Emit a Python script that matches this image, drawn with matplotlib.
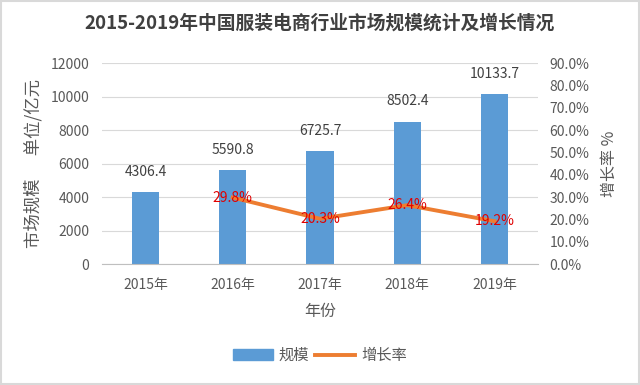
import matplotlib
matplotlib.use("Agg")
import matplotlib.pyplot as plt
from matplotlib.ticker import FuncFormatter, MultipleLocator

plt.rcParams["font.family"] = ["Noto Sans CJK SC", "DejaVu Sans"]

years = ["2015年", "2016年", "2017年", "2018年", "2019年"]
scale = [4306.4, 5590.8, 6725.7, 8502.4, 10133.7]
growth_years = ["2016年", "2017年", "2018年", "2019年"]
growth = [29.8, 20.3, 26.4, 19.2]

BLUE = "#5B9BD5"
ORANGE = "#ED7D31"
GREY = "#595959"

fig = plt.figure(figsize=(6.4, 3.85), dpi=100)
ax = fig.add_axes([0.159, 0.314, 0.682, 0.522])

x = list(range(len(years)))
ax.bar(x, scale, width=0.31, color=BLUE, zorder=2)
for xi, v in zip(x, scale):
    ax.text(xi, v + 800, f"{v:.1f}", ha="center", va="bottom",
            fontsize=10, color="#404040")

ax.set_xlim(-0.5, len(years) - 0.5)
ax.set_ylim(0, 12000)
ax.yaxis.set_major_locator(MultipleLocator(2000))
ax.grid(axis="y", color="#D9D9D9", linewidth=0.8, zorder=0)
ax.set_xticks(x)
ax.set_xticklabels(years)
ax.tick_params(length=0, labelsize=10, colors=GREY, pad=10)
ax.tick_params(axis="y", pad=9)
for side in ("top", "left", "right"):
    ax.spines[side].set_visible(False)
ax.spines["bottom"].set_color("#BFBFBF")
ax.set_xlabel("年份", fontsize=11.5, color=GREY, labelpad=8)
ax.set_ylabel("市场规模      单位/亿元", fontsize=12.5, color=GREY, labelpad=6)

ax2 = ax.twinx()
gx = [years.index(y) for y in growth_years]
ax2.plot(gx, growth, color=ORANGE, linewidth=2.8, zorder=3)
for xi, v in zip(gx, growth):
    ax2.text(xi, v, f"{v:.1f}%", ha="center", va="center",
             fontsize=10, color="#E00000")
ax2.set_ylim(0, 90)
ax2.yaxis.set_major_locator(MultipleLocator(10))
ax2.yaxis.set_major_formatter(FuncFormatter(lambda v, p: f"{v:.1f}%"))
ax2.tick_params(length=0, labelsize=10, colors=GREY, pad=8)
for side in ("top", "left", "right", "bottom"):
    ax2.spines[side].set_visible(False)
ax2.set_ylabel("增长率 %", fontsize=11.5, color=GREY, labelpad=8)

fig.suptitle("2015-2019年中国服装电商行业市场规模统计及增长情况",
             fontsize=13.5, fontweight="bold", color="#404040", y=0.965)

handles = [
    plt.Rectangle((0, 0), 1, 1, color=BLUE),
    plt.Line2D([0], [0], color=ORANGE, linewidth=2.8),
]
fig.legend(handles, ["规模", "增长率"], loc="center", bbox_to_anchor=(0.5, 0.077),
           ncol=2, frameon=False, fontsize=11, labelcolor=GREY,
           handlelength=2.6, columnspacing=0.4, handletextpad=0.4)

fig.patches.append(plt.Rectangle((0.002, 0.002), 0.996, 0.996, fill=False,
                                 edgecolor="#D9D9D9", linewidth=1.5,
                                 transform=fig.transFigure))

fig.savefig("out.png", dpi=100)
